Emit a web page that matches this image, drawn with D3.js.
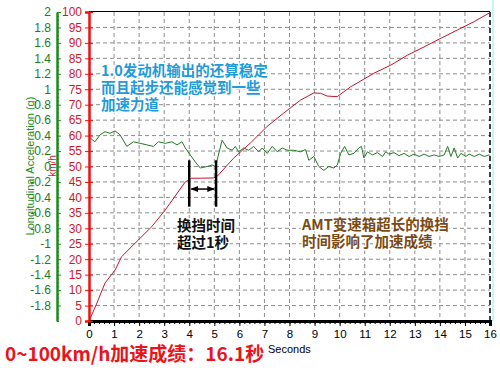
<!DOCTYPE html>
<html>
<head>
<meta charset="utf-8">
<script src="https://d3js.org/d3.v7.min.js"></script>
<style>
  html, body { margin: 0; padding: 0; background: #fff; }
  svg { display: block; }
  text { font-family: "Liberation Sans", Arial, sans-serif; }
  .cjk { font-family: "Noto Sans CJK SC", sans-serif; font-weight: bold; }
  .halo { paint-order: stroke; stroke: #fff; stroke-width: 3px; stroke-linejoin: round; }
</style>
</head>
<body>
<svg id="chart" width="500" height="370"></svg>
<script>
// speed curve (km/h) vs time (s)
var speedTime = [0, 0.3, 0.64, 1.04, 1.3, 1.84, 2.5, 3.04, 3.84, 4.1, 4.44, 4.96, 5.1, 5.77, 6.44, 7.1, 7.77,
  8.44, 8.97, 9.24, 9.5, 9.9, 10.17, 10.44, 10.7, 11.37, 12.04, 12.7, 13.37, 14.04, 14.7, 15.37, 16.0];
var speedVal = [0, 5.5, 12.3, 16.5, 20.8, 25.2, 30.5, 35.9, 45, 46.2, 46.2, 46.3, 46.7, 52.7, 57.6, 62.9, 67.3,
  71.5, 73.8, 73.7, 72.8, 72.6, 74.2, 75.8, 77, 80.2, 82.8, 86, 88.7, 91.5, 94.2, 96.9, 99.8];

// longitudinal acceleration (g) vs time (s)
var accTime = [0, 0.24, 0.44, 0.64, 0.84, 1.04, 1.24, 1.51, 1.77, 2.04, 2.31, 2.57, 2.77, 3.04, 3.31, 3.51, 3.71,
  3.84, 4.04, 4.24, 4.44, 4.71, 4.91, 5.04, 5.11, 5.31, 5.51, 5.71, 5.84, 5.97, 6.17, 6.37, 6.57, 6.77, 6.91,
  7.11, 7.31, 7.51, 7.71, 7.91, 8.17, 8.44, 8.64, 8.77, 8.97, 9.17, 9.37, 9.57, 9.77, 9.91, 10.04, 10.2, 10.37,
  10.57, 10.77, 10.87, 10.97, 11.11, 11.31, 11.51, 11.71, 11.84, 11.97, 12.17, 12.37, 12.57, 12.77, 12.97,
  13.17, 13.37, 13.57, 13.77, 13.97, 14.17, 14.31, 14.44, 14.57, 14.71, 14.84, 15.04, 15.17, 15.37, 15.57,
  15.77, 15.97, 16.0];
var accVal = [0.38, 0.32, 0.41, 0.45, 0.43, 0.46, 0.41, 0.26, 0.32, 0.30, 0.28, 0.26, 0.32, 0.30, 0.32, 0.28, 0.32,
  0.24, 0.15, 0.06, -0.02, 0.0, 0.02, 0.0, 0.08, 0.34, 0.24, 0.21, 0.26, 0.19, 0.24, 0.21, 0.26, 0.19, 0.24,
  0.17, 0.26, 0.19, 0.24, 0.21, 0.21, 0.19, 0.22, 0.08, 0.13, 0.0, -0.05, 0.0, -0.02, 0.02, 0.17, 0.26, 0.15,
  0.17, 0.24, 0.26, 0.11, 0.19, 0.15, 0.18, 0.13, 0.19, 0.16, 0.18, 0.14, 0.17, 0.13, 0.16,
  0.13, 0.16, 0.13, 0.15, 0.13, 0.15, 0.26, 0.13, 0.24, 0.11, 0.17, 0.13, 0.16, 0.13, 0.16,
  0.13, 0.15, 0.14];

var secondTicks = d3.range(0, 17);
var speedTicks = d3.range(0, 101, 5);
var accTicks = d3.range(-9, 11).map(function(i){ return i / 5; });

// gear change marker
var shiftStart = 4.0, shiftEnd = 5.07;
var shiftTop = 52, shiftBottom = 37, shiftArrow = 42.7;

var note1 = ["1.0发动机输出的还算稳定", "而且起步还能感觉到一些", "加速力道"];
var note2 = ["换挡时间", "超过1秒"];
var note3 = ["AMT变速箱超长的换挡", "时间影响了加速成绩"];
var title = "0~100km/h加速成绩：16.1秒";

var svg = d3.select("#chart");
var x = d3.scaleLinear().domain([0, 16]).range([89, 490]);
var yv = d3.scaleLinear().domain([0, 100]).range([321, 12]);
var yg = d3.scaleLinear().domain([-2, 2]).range([321, 12]);

var defs = svg.append("defs");
defs.append("marker").attr("id", "arr").attr("viewBox", "0 0 10 10")
  .attr("refX", 9).attr("refY", 5).attr("markerWidth", 5).attr("markerHeight", 5)
  .attr("orient", "auto-start-reverse")
  .append("path").attr("d", "M0,1 L10,5 L0,9 z").attr("fill", "#000");

// grid
var grid = svg.append("g");
grid.selectAll("line.h").data(speedTicks.filter(function(d){ return d > 0 && d < 100; }))
  .enter().append("line")
  .attr("x1", x(0)).attr("x2", x(16))
  .attr("y1", function(d){ return yv(d); }).attr("y2", function(d){ return yv(d); })
  .attr("stroke", "#8c8c8c").attr("stroke-dasharray", "4,3");
grid.selectAll("line.v").data(secondTicks.filter(function(d){ return d > 0 && d < 16; }))
  .enter().append("line")
  .attr("x1", function(d){ return x(d); }).attr("x2", function(d){ return x(d); })
  .attr("y1", yv(100)).attr("y2", yv(0))
  .attr("stroke", "#8c8c8c").attr("stroke-dasharray", "4,3");

// frame
svg.append("line").attr("x1", x(0)).attr("x2", x(16)).attr("y1", yv(100) - 0.5).attr("y2", yv(100) - 0.5)
  .attr("stroke", "#000");
svg.append("line").attr("x1", x(16)).attr("x2", x(16)).attr("y1", yv(100)).attr("y2", yv(0))
  .attr("stroke", "#000").attr("stroke-width", 1.5).attr("stroke-dasharray", "5,3");
svg.append("line").attr("x1", x(16) + 3).attr("x2", x(16) + 3).attr("y1", 0).attr("y2", yv(0))
  .attr("stroke", "#b8f2f2").attr("stroke-width", 1.5);

// curves
var accLine = d3.line().x(function(d){ return x(d[0]); }).y(function(d){ return yg(d[1]); });
svg.append("path").datum(d3.zip(accTime, accVal)).attr("d", accLine)
  .attr("fill", "none").attr("stroke", "#237a23").attr("stroke-width", 1);
var speedLine = d3.line().x(function(d){ return x(d[0]); }).y(function(d){ return yv(d[1]); });
svg.append("path").datum(d3.zip(speedTime, speedVal)).attr("d", speedLine)
  .attr("fill", "none").attr("stroke", "#c41430").attr("stroke-width", 1);

// x axis
var xAxis = svg.append("g").attr("transform", "translate(0," + yv(0) + ")")
  .call(d3.axisBottom(x).tickValues(secondTicks).tickSize(5).tickPadding(4));
xAxis.select(".domain").attr("stroke", "#000").attr("stroke-width", 3);
xAxis.selectAll("text").attr("font-size", 11.5).attr("fill", "#000");
svg.append("g").attr("transform", "translate(0," + yv(0) + ")")
  .call(d3.axisBottom(x).tickValues(d3.range(0, 80).map(function(i){ return i / 5; }))
    .tickSize(3).tickFormat(""))
  .call(function(g){ g.select(".domain").remove(); });
svg.append("text").attr("x", 268).attr("y", 353).attr("font-size", 11).attr("fill", "#000").text("Seconds");

// axis titles
svg.append("text").attr("transform", "translate(34,166) rotate(-90)").attr("text-anchor", "middle")
  .attr("font-size", 11).attr("fill", "#228b22").text("Longitudinal Acceleration (g)");
svg.append("text").attr("transform", "translate(56,166) rotate(-90)").attr("text-anchor", "middle")
  .attr("font-size", 10).attr("fill", "#d61a2a").text("km/h");

// green acceleration axis
var gx = 57;
var gAxis = svg.append("g").attr("transform", "translate(" + gx + ",0)")
  .call(d3.axisLeft(yg).tickValues(accTicks).tickSize(0).tickPadding(6)
    .tickFormat(function(d){ return String(+d.toFixed(1)); }));
gAxis.select(".domain").attr("stroke", "#1f8a1f").attr("stroke-width", 2.5);
gAxis.selectAll("text").attr("font-size", 12).attr("fill", "#1f7a1f");
svg.append("g").attr("transform", "translate(" + gx + ",0)")
  .call(d3.axisRight(yg).tickValues(accTicks).tickSize(4).tickFormat(""))
  .call(function(g){ g.select(".domain").remove(); g.selectAll("line").attr("stroke", "#1f8a1f"); });
svg.append("g").attr("transform", "translate(" + gx + ",0)")
  .call(d3.axisRight(yg).tickValues(d3.range(-40, 40).map(function(i){ return i / 20; })).tickSize(2).tickFormat(""))
  .call(function(g){ g.select(".domain").remove(); g.selectAll("line").attr("stroke", "#1f8a1f"); });

// red speed axis
var vAxis = svg.append("g").attr("transform", "translate(" + x(0) + ",0)")
  .call(d3.axisLeft(yv).tickValues(speedTicks).tickSize(4).tickPadding(3));
vAxis.select(".domain").attr("stroke", "#ee1111").attr("stroke-width", 2.5);
vAxis.selectAll("line").attr("stroke", "#ee1111");
vAxis.selectAll("text").attr("font-size", 12).attr("fill", "#cc1a28");
svg.append("g").attr("transform", "translate(" + x(0) + ",0)")
  .call(d3.axisRight(yv).tickValues(speedTicks).tickSize(4).tickFormat(""))
  .call(function(g){ g.select(".domain").remove(); g.selectAll("line").attr("stroke", "#ee1111"); });

// gear change marker
[shiftStart, shiftEnd].forEach(function(t){
  svg.append("line").attr("x1", x(t)).attr("x2", x(t)).attr("y1", yv(shiftTop)).attr("y2", yv(shiftBottom))
    .attr("stroke", "#000").attr("stroke-width", 2.5);
});
svg.append("line").attr("x1", x(shiftStart) + 2).attr("x2", x(shiftEnd) - 2)
  .attr("y1", yv(shiftArrow)).attr("y2", yv(shiftArrow))
  .attr("stroke", "#000").attr("stroke-width", 1.5)
  .attr("marker-start", "url(#arr)").attr("marker-end", "url(#arr)");

// notes
function note(lines, x0, y0, color) {
  svg.append("g").selectAll("text").data(lines).enter().append("text")
    .attr("class", "cjk halo").attr("x", x0).attr("y", function(d, i){ return y0 + i * 17; })
    .attr("font-size", 14.5).attr("fill", color).text(function(d){ return d; });
}
note(note1, 101, 75.5, "#1e9bd8");
note(note2, 177, 231, "#111");
note(note3, 302, 230, "#7a4a14");

svg.append("text").attr("class", "cjk").attr("x", 5).attr("y", 361)
  .attr("font-size", 19).attr("fill", "#e8141c").text(title);
</script>
</body>
</html>
